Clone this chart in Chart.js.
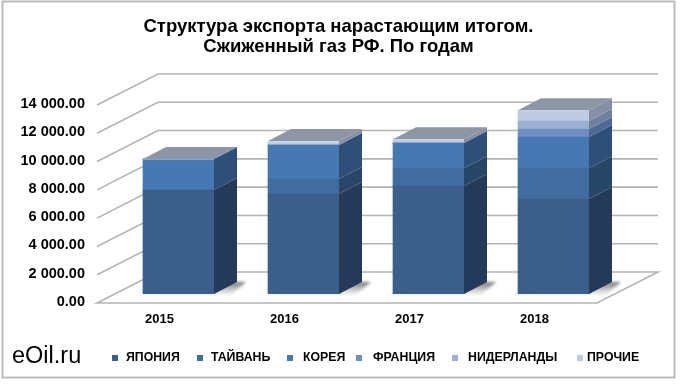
<!DOCTYPE html>
<html lang="ru">
<head>
    <meta charset="UTF-8">
    <title>Структура экспорта</title>
    <script src="https://cdn.jsdelivr.net/npm/chart.js"></script>
    <style>
        html, body { margin: 0; padding: 0; background: #fff; }
        #wrap { position: relative; width: 680px; height: 384px; }
    </style>
</head>
<body>
    <div id="wrap"><canvas id="chart" width="680" height="384"></canvas></div>
    <script>
        const years = ['2015', '2016', '2017', '2018'];
        const japan = [7350, 7070, 7630, 6710];
        const taiwan = [0, 1060, 1270, 2190];
        const korea = [2190, 2400, 1770, 2195];
        const france = [0, 0, 0, 565];
        const netherlands = [0, 0, 0, 570];
        const other = [0, 280, 280, 770];

        // front colour, side colour
        const faces = [
            ['#3a5f8b', '#253a58'],
            ['#406c9f', '#284668'],
            ['#4679b3', '#2e5078'],
            ['#6e8fc0', '#4d6a96'],
            ['#9cb0d3', '#6f7f9c'],
            ['#bfcbe2', '#868fa3']
        ];
        const topColour = '#8e96a6';
        const gridColour = '#b4b4b4';

        // fake depth: bars are pushed by barDepth, the wall and floor by wallOffset
        const barDepth = { x: 23, y: 12 };
        const frontOffset = { x: -19, y: 9 };
        const wallOffset = { x: 42, y: -22 };
        const legendSpots = [
            [115, 126], [200, 211], [290, 303], [359, 373], [455, 468], [580, 587]
        ];

        const wall3d = {
            id: 'wall3d',
            beforeDatasetsDraw(chart) {
                const { ctx, chartArea: area, scales: { y } } = chart;
                const left = area.left + frontOffset.x;
                const right = area.right + frontOffset.x;
                const backLeft = area.left + wallOffset.x;
                const backRight = area.right + wallOffset.x;
                ctx.save();
                ctx.strokeStyle = gridColour;
                ctx.lineWidth = 1.6;
                y.ticks.forEach(t => {
                    const py = y.getPixelForValue(t.value);
                    ctx.beginPath();
                    ctx.moveTo(left, py + frontOffset.y);
                    ctx.lineTo(backLeft, py + wallOffset.y);
                    ctx.lineTo(backRight, py + wallOffset.y);
                    if (t.value === 0) {
                        ctx.lineTo(right, py + frontOffset.y);
                        ctx.closePath();
                    }
                    ctx.stroke();
                });
                ctx.restore();
            }
        };

        const bars3d = {
            id: 'bars3d',
            beforeDatasetsDraw(chart) {
                // soft shadow on the floor
                const { ctx } = chart;
                const first = chart.getDatasetMeta(0).data;
                ctx.save();
                ctx.filter = 'blur(1.5px)';
                first.forEach(bar => {
                    const half = bar.width / 2;
                    const base = bar.base;
                    const g = ctx.createLinearGradient(0, base - barDepth.y, 0, base);
                    g.addColorStop(0, 'rgba(50,50,50,0.7)');
                    g.addColorStop(1, 'rgba(110,110,110,0.1)');
                    ctx.fillStyle = g;
                    ctx.beginPath();
                    ctx.moveTo(bar.x - half - 12, base + 1);
                    ctx.lineTo(bar.x + half + barDepth.x - 6, base + 1);
                    ctx.lineTo(bar.x + half + barDepth.x + 9, base - barDepth.y);
                    ctx.lineTo(bar.x + half, base - barDepth.y);
                    ctx.closePath();
                    ctx.fill();
                });
                ctx.restore();
            },
            afterDatasetsDraw(chart) {
                const { ctx } = chart;
                ctx.save();
                chart.data.datasets.forEach((ds, i) => {
                    chart.getDatasetMeta(i).data.forEach((bar, j) => {
                        if (!ds.data[j]) return;
                        const r = bar.x + bar.width / 2;
                        ctx.fillStyle = faces[i][1];
                        ctx.beginPath();
                        ctx.moveTo(r, bar.y);
                        ctx.lineTo(r + barDepth.x, bar.y - barDepth.y);
                        ctx.lineTo(r + barDepth.x, bar.base - barDepth.y);
                        ctx.lineTo(r, bar.base);
                        ctx.closePath();
                        ctx.fill();
                    });
                });
                // lid on top of every stack
                years.forEach((yr, j) => {
                    let top = null;
                    chart.data.datasets.forEach((ds, i) => {
                        if (ds.data[j]) top = chart.getDatasetMeta(i).data[j];
                    });
                    const l = top.x - top.width / 2;
                    const r = top.x + top.width / 2;
                    ctx.fillStyle = topColour;
                    ctx.beginPath();
                    ctx.moveTo(l, top.y);
                    ctx.lineTo(l + barDepth.x, top.y - barDepth.y);
                    ctx.lineTo(r + barDepth.x, top.y - barDepth.y);
                    ctx.lineTo(r, top.y);
                    ctx.closePath();
                    ctx.fill();
                    ctx.fillStyle = 'rgba(255,255,255,0.35)';
                    ctx.fillRect(l, top.y, top.width, 1);
                });
                ctx.restore();
            }
        };

        const legendAndFrame = {
            id: 'legendAndFrame',
            afterDraw(chart) {
                const { ctx } = chart;
                ctx.save();
                chart.data.datasets.forEach((ds, i) => {
                    const [mx, tx] = legendSpots[i];
                    ctx.fillStyle = faces[i][0];
                    ctx.fillRect(mx - 3, 355, 6, 6);
                    ctx.fillStyle = '#000';
                    ctx.font = 'bold 12.3px "Liberation Sans"';
                    ctx.textBaseline = 'middle';
                    ctx.fillText(ds.label, tx, 358);
                });
                ctx.fillStyle = '#000';
                ctx.font = '23.5px "Liberation Sans"';
                ctx.textBaseline = 'alphabetic';
                ctx.fillText('eOil.ru', 12, 363);
                ctx.strokeStyle = '#bcbcbc';
                ctx.lineWidth = 2;
                ctx.strokeRect(2.5, 1.5, 672, 376);
                ctx.restore();
            }
        };

        new Chart(document.getElementById('chart'), {
            type: 'bar',
            data: {
                labels: years,
                datasets: [
                    { label: 'ЯПОНИЯ', data: japan },
                    { label: 'ТАЙВАНЬ', data: taiwan },
                    { label: 'КОРЕЯ', data: korea },
                    { label: 'ФРАНЦИЯ', data: france },
                    { label: 'НИДЕРЛАНДЫ', data: netherlands },
                    { label: 'ПРОЧИЕ', data: other }
                ].map((d, i) => ({ ...d, backgroundColor: faces[i][0], barThickness: 71 }))
            },
            options: {
                responsive: false,
                animation: false,
                layout: { padding: { left: 0, right: 3, top: 0, bottom: 0 } },
                plugins: {
                    legend: { display: false },
                    tooltip: { enabled: false },
                    title: {
                        display: true,
                        text: ['Структура экспорта нарастающим итогом.', 'Сжиженный газ РФ. По годам'],
                        color: '#000',
                        font: { family: '"Liberation Sans"', size: 18.5, weight: 'bold', lineHeight: 20 / 18.5 },
                        padding: { top: 17, bottom: 39 }
                    }
                },
                scales: {
                    x: {
                        stacked: true,
                        grid: { display: false, drawTicks: false },
                        border: { display: false },
                        afterFit(s) { s.height = 90; },
                        ticks: {
                            color: '#000',
                            labelOffset: -19,
                            padding: 18,
                            maxRotation: 0,
                            font: { family: '"Liberation Sans"', size: 13, weight: 'bold' }
                        }
                    },
                    y: {
                        stacked: true,
                        min: 0,
                        max: 14000,
                        grid: { display: false, drawTicks: false },
                        border: { display: false },
                        afterFit(s) { s.width = 116; },
                        ticks: {
                            color: '#000',
                            stepSize: 2000,
                            padding: 31,
                            labelOffset: 8,
                            font: { family: '"Liberation Sans"', size: 14.5, weight: 'bold' },
                            callback: v => v.toLocaleString('en-US', { minimumFractionDigits: 2 }).replace(',', ' ')
                        }
                    },
                    // empty axis, only keeps room on the right so the title stays centred on the page
                    spacer: {
                        position: 'right',
                        grid: { display: false, drawTicks: false },
                        border: { display: false },
                        ticks: { display: false },
                        afterFit(s) { s.width = 61; }
                    }
                }
            },
            plugins: [wall3d, bars3d, legendAndFrame]
        });
    </script>
</body>
</html>
